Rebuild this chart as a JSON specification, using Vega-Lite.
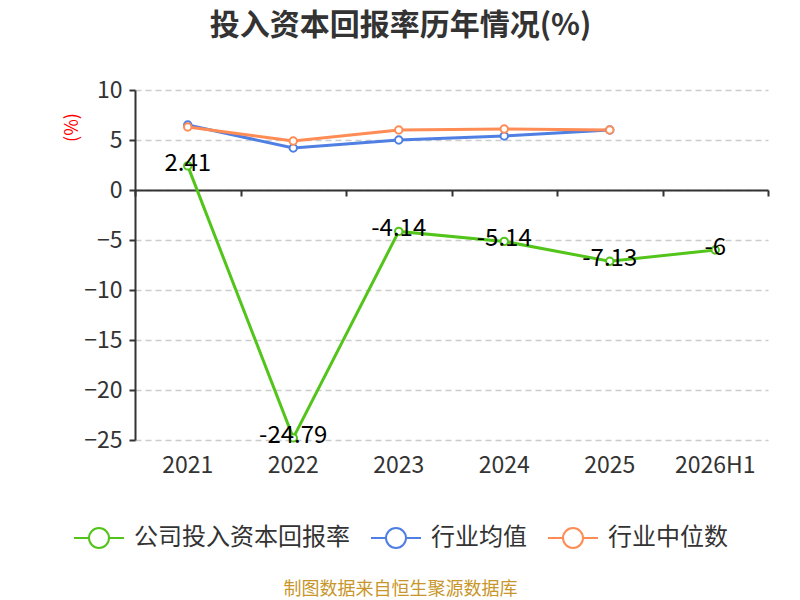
{
  "$schema": "https://vega.github.io/schema/vega-lite/v6.json",
  "autosize": "none",
  "width": 633,
  "height": 350,
  "padding": {"left": 135, "top": 90, "right": 32, "bottom": 160},
  "title": {
    "text": "投入资本回报率历年情况(%)",
    "font": "Noto Sans CJK SC",
    "fontSize": 30,
    "fontWeight": "bold",
    "color": "#333333",
    "anchor": "middle",
    "frame": "group",
    "dx": -51,
    "offset": 38
  },
  "config": {
    "font": "Noto Sans CJK SC",
    "view": {"stroke": null}
  },
  "data": {
    "values": [
      {"year": "2021", "series": "公司投入资本回报率", "value": 2.41},
      {"year": "2022", "series": "公司投入资本回报率", "value": -24.79},
      {"year": "2023", "series": "公司投入资本回报率", "value": -4.14},
      {"year": "2024", "series": "公司投入资本回报率", "value": -5.14},
      {"year": "2025", "series": "公司投入资本回报率", "value": -7.13},
      {"year": "2026H1", "series": "公司投入资本回报率", "value": -6},
      {"year": "2021", "series": "行业均值", "value": 6.5},
      {"year": "2022", "series": "行业均值", "value": 4.2},
      {"year": "2023", "series": "行业均值", "value": 5.0},
      {"year": "2024", "series": "行业均值", "value": 5.4},
      {"year": "2025", "series": "行业均值", "value": 6.0},
      {"year": "2021", "series": "行业中位数", "value": 6.3},
      {"year": "2022", "series": "行业中位数", "value": 4.9},
      {"year": "2023", "series": "行业中位数", "value": 6.0},
      {"year": "2024", "series": "行业中位数", "value": 6.1},
      {"year": "2025", "series": "行业中位数", "value": 6.0}
    ]
  },
  "encoding": {
    "y": {
      "field": "value",
      "type": "quantitative",
      "scale": {"domain": [-25, 10], "nice": false, "zero": false},
      "axis": {
        "values": [-25, -20, -15, -10, -5, 0, 5, 10],
        "title": "(%)",
        "titleColor": "#ff0000",
        "titleFontSize": 18,
        "titleFontWeight": "normal",
        "titleAngle": -90,
        "titleX": -63,
        "titleY": 37,
        "titleAlign": "center",
        "titleBaseline": "middle",
        "domain": true,
        "domainColor": "#333333",
        "domainWidth": 2,
        "ticks": true,
        "tickColor": "#333333",
        "tickWidth": 2,
        "tickSize": 6,
        "labelFontSize": 23,
        "labelColor": "#333333",
        "labelPadding": 7,
        "grid": true,
        "gridColor": "#cccccc",
        "gridWidth": 1.5,
        "gridDash": [6, 4]
      }
    }
  },
  "layer": [
    {
      "mark": {
        "type": "line",
        "strokeWidth": 3,
        "point": {"filled": false, "fill": "white", "size": 55, "strokeWidth": 2}
      },
      "encoding": {
        "x": {
          "field": "year",
          "type": "ordinal",
          "bandPosition": 0.5,
          "scale": {
            "type": "band",
            "domain": ["2021", "2022", "2023", "2024", "2025", "2026H1"],
            "paddingInner": 0,
            "paddingOuter": 0
          },
          "axis": {
            "orient": "bottom",
            "domain": false,
            "ticks": false,
            "labelAngle": 0,
            "labelFontSize": 23,
            "labelColor": "#333333",
            "labelPadding": 14,
            "title": "制图数据来自恒生聚源数据库",
            "titleColor": "#c8962a",
            "titleFontSize": 18,
            "titleFontWeight": "normal",
            "titleX": 265,
            "titleY": 149,
            "titleAlign": "center",
            "titleBaseline": "middle"
          }
        },
        "color": {
          "field": "series",
          "type": "nominal",
          "sort": ["公司投入资本回报率", "行业均值", "行业中位数"],
          "scale": {
            "domain": ["公司投入资本回报率", "行业均值", "行业中位数"],
            "range": ["#52c41a", "#4f7fe3", "#ff8c55"]
          },
          "legend": {
            "orient": "none",
            "legendX": -62,
            "legendY": 422,
            "direction": "horizontal",
            "title": null,
            "symbolType": "M-1,0H-0.4M0.4,0H1M0.4,0A0.4,0.4 0 1,1 -0.4,0A0.4,0.4 0 1,1 0.4,0",
            "symbolSize": 2500,
            "symbolStrokeWidth": 2,
            "symbolFillColor": "white",
            "symbolOpacity": 1,
            "labelFontSize": 24,
            "labelColor": "#333333",
            "labelLimit": 0,
            "labelOffset": 9,
            "columnPadding": 17
          }
        }
      }
    },
    {
      "transform": [{"filter": "datum.series === '公司投入资本回报率'"}],
      "mark": {"type": "text", "fontSize": 24, "color": "#000000", "dy": -2},
      "encoding": {
        "x": {
          "field": "year",
          "type": "ordinal",
          "bandPosition": 0.5,
          "axis": {
            "orient": "bottom",
            "offset": -250,
            "labels": false,
            "domain": true,
            "domainColor": "#333333",
            "domainWidth": 2,
            "ticks": true,
            "tickColor": "#333333",
            "tickWidth": 2,
            "tickSize": 6,
            "tickBand": "extent",
            "grid": false,
            "title": null
          }
        },
        "text": {"field": "value", "type": "nominal"}
      }
    }
  ],
  "resolve": {"axis": {"x": "independent"}}
}
